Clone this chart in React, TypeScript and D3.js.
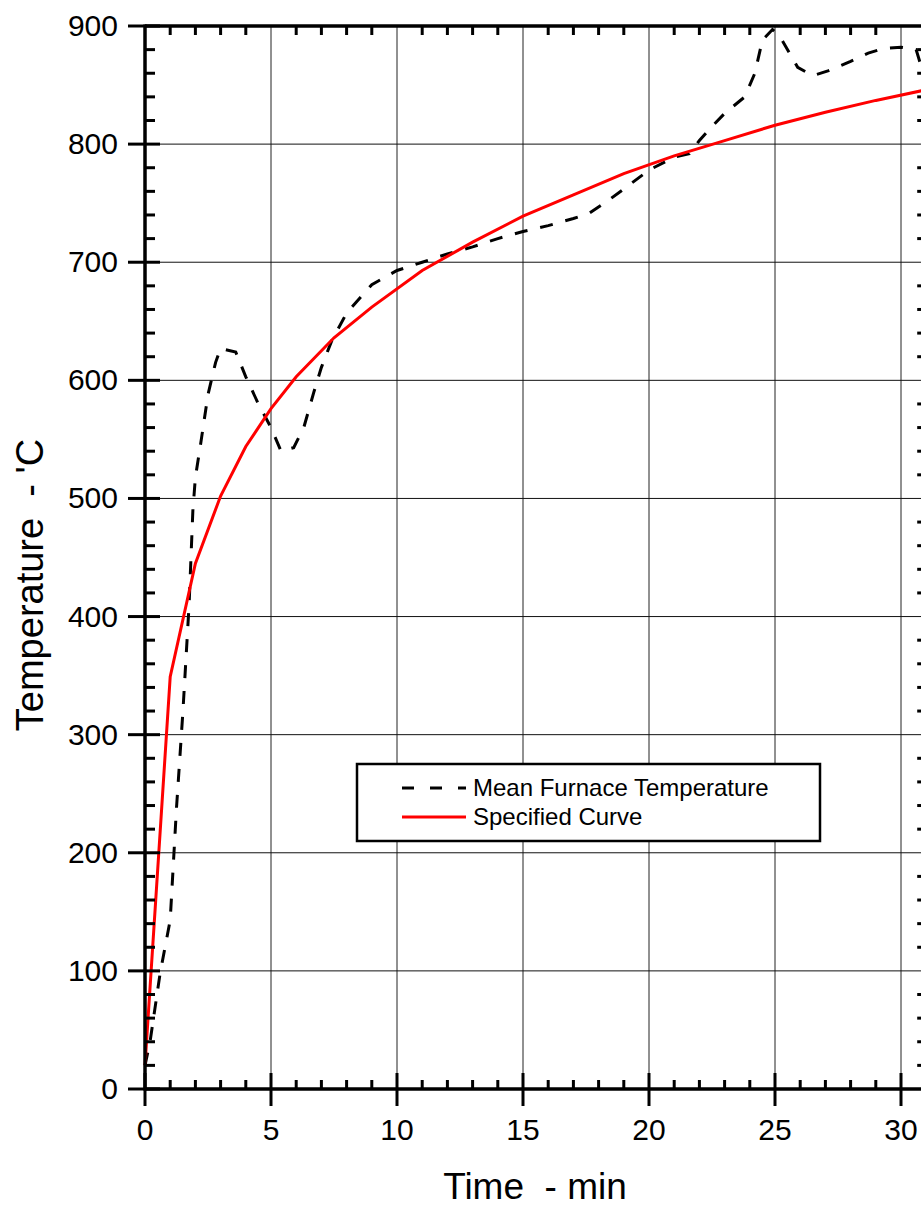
import React, { useRef, useEffect } from 'react';
import * as d3 from 'd3';

// Mean furnace temperature (dashed)
const meanTime = [0, 0.2, 0.6, 1.0, 1.25, 1.5, 1.75, 1.9, 2.0, 2.2, 2.5, 2.8, 3.0, 3.6, 4.0, 4.5, 5.0, 5.4, 5.9, 6.3, 6.7, 7.0, 7.4, 8.0, 9.0, 10.0, 11.0, 12.0, 13.0, 14.0, 15.0, 16.0, 17.0, 17.6, 18.3, 19.0, 20.0, 21.0, 21.6, 22.0, 22.5, 23.0, 23.8, 24.2, 24.5, 24.9, 25.2, 25.9, 26.5, 27.1, 28.0, 28.7, 29.3, 30.0, 30.6, 31.0];
const meanTemp = [20, 40, 98, 143, 238, 318, 410, 490, 518, 545, 588, 615, 627, 624, 603, 580, 560, 540, 543, 560, 590, 611, 633, 657, 681, 693, 700, 707, 713, 720, 726, 731, 737, 741, 751, 762, 778, 789, 792, 803, 815, 826, 840, 860, 888, 897, 891, 865, 858, 862, 870, 877, 881, 882, 880, 852];

// Specified curve (red)
const specTime = [0, 1, 2, 3, 4, 5, 6, 7.5, 9, 11, 13, 15, 17, 19, 21, 23, 25, 27, 29, 31];
const specTemp = [20, 349, 445, 502, 544, 576, 603, 636, 662, 693, 717, 739, 757, 775, 790, 803, 816, 827, 837, 846];

const xTickLabels = [0, 5, 10, 15, 20, 25, 30];
const yTickLabels = [0, 100, 200, 300, 400, 500, 600, 700, 800, 900];
const legendLabels = ['Mean Furnace Temperature', 'Specified Curve'];

const FONT = '"Liberation Sans", Arial, sans-serif';

const FurnaceChart = () => {
  const svgRef = useRef<SVGSVGElement>(null);

  useEffect(() => {
    const svg = d3.select(svgRef.current);
    svg.selectAll('*').remove();

    const width = 921;
    const height = 1207;
    const left = 145;
    const top = 26;
    const bottom = 1089;

    svg.attr('width', width).attr('height', height);

    const x = d3.scaleLinear().domain([0, 31]).range([left, left + 31 * 25.2]);
    const y = d3.scaleLinear().domain([0, 900]).range([bottom, top]);
    const right = x(31);

    // Grid
    svg
      .append('g')
      .selectAll('line')
      .data(xTickLabels.filter((d) => d > 0))
      .enter()
      .append('line')
      .attr('x1', (d) => x(d))
      .attr('x2', (d) => x(d))
      .attr('y1', top)
      .attr('y2', bottom)
      .attr('stroke', '#222')
      .attr('stroke-width', 1);

    svg
      .append('g')
      .selectAll('line')
      .data(yTickLabels.filter((d) => d > 0 && d < 900))
      .enter()
      .append('line')
      .attr('x1', left)
      .attr('x2', right)
      .attr('y1', (d) => y(d))
      .attr('y2', (d) => y(d))
      .attr('stroke', '#111')
      .attr('stroke-width', 1);

    // Data lines
    const line = d3
      .line<number>()
      .x((_, i) => x(meanTime[i]))
      .y((d) => y(d));

    svg
      .append('path')
      .attr('d', line(meanTemp))
      .attr('fill', 'none')
      .attr('stroke', '#000')
      .attr('stroke-width', 3)
      .attr('stroke-dasharray', '13,13');

    const specLine = d3
      .line<number>()
      .x((_, i) => x(specTime[i]))
      .y((d) => y(d));

    svg
      .append('path')
      .attr('d', specLine(specTemp))
      .attr('fill', 'none')
      .attr('stroke', '#ff0000')
      .attr('stroke-width', 3);

    // Frame
    const frame = svg.append('g').attr('stroke', '#000').attr('stroke-width', 3.5);
    frame.append('line').attr('x1', left).attr('x2', left).attr('y1', top - 1.5).attr('y2', bottom + 1.5);
    frame.append('line').attr('x1', left).attr('x2', right).attr('y1', top).attr('y2', top);
    frame.append('line').attr('x1', left).attr('x2', right).attr('y1', bottom).attr('y2', bottom);
    frame.append('line').attr('x1', right).attr('x2', right).attr('y1', top).attr('y2', bottom);

    // Ticks
    const ticks = svg.append('g').attr('stroke', '#000').attr('stroke-width', 3);
    const xMinor = d3.range(1, 31).filter((d) => d % 5 !== 0);
    const yMinor = d3.range(20, 900, 20).filter((d) => d % 100 !== 0);

    xMinor.forEach((d) => {
      ticks.append('line').attr('x1', x(d)).attr('x2', x(d)).attr('y1', bottom).attr('y2', bottom - 9);
      ticks.append('line').attr('x1', x(d)).attr('x2', x(d)).attr('y1', top).attr('y2', top + 9);
    });
    xTickLabels.forEach((d) => {
      ticks.append('line').attr('x1', x(d)).attr('x2', x(d)).attr('y1', bottom - 16).attr('y2', bottom + 17);
    });
    yMinor.forEach((d) => {
      ticks.append('line').attr('x1', left).attr('x2', left + 10).attr('y1', y(d)).attr('y2', y(d));
      ticks.append('line').attr('x1', right).attr('x2', right - 9).attr('y1', y(d)).attr('y2', y(d));
    });
    yTickLabels.forEach((d) => {
      ticks.append('line').attr('x1', left - 17).attr('x2', left + 15).attr('y1', y(d)).attr('y2', y(d));
    });

    // Tick labels
    svg
      .append('g')
      .selectAll('text')
      .data(yTickLabels)
      .enter()
      .append('text')
      .attr('x', 118)
      .attr('y', (d) => y(d) + 10)
      .attr('text-anchor', 'end')
      .style('font-family', FONT)
      .style('font-size', '30px')
      .text((d) => d);

    svg
      .append('g')
      .selectAll('text')
      .data(xTickLabels)
      .enter()
      .append('text')
      .attr('x', (d) => x(d))
      .attr('y', 1140)
      .attr('text-anchor', 'middle')
      .style('font-family', FONT)
      .style('font-size', '30px')
      .text((d) => d);

    // Axis titles
    svg
      .append('text')
      .attr('x', 535)
      .attr('y', 1199)
      .attr('text-anchor', 'middle')
      .style('font-family', FONT)
      .style('font-size', '37px')
      .style('white-space', 'pre')
      .text('Time  - min');

    svg
      .append('text')
      .attr('transform', 'translate(43, 585) rotate(-90)')
      .attr('text-anchor', 'middle')
      .style('font-family', FONT)
      .style('font-size', '38px')
      .style('white-space', 'pre')
      .text("Temperature  - 'C");

    // Legend
    const legend = svg.append('g');
    legend
      .append('rect')
      .attr('x', 357)
      .attr('y', 764)
      .attr('width', 463)
      .attr('height', 77)
      .attr('fill', '#fff')
      .attr('stroke', '#000')
      .attr('stroke-width', 2.5);

    const rows = legend
      .selectAll('.row')
      .data(legendLabels)
      .enter()
      .append('g')
      .attr('transform', (_, i) => `translate(0, ${788 + i * 29})`);

    rows
      .append('line')
      .attr('x1', 402)
      .attr('x2', 466)
      .attr('y1', 0)
      .attr('y2', 0)
      .attr('stroke', (_, i) => (i === 0 ? '#000' : '#ff0000'))
      .attr('stroke-width', 3)
      .attr('stroke-dasharray', (_, i) => (i === 0 ? '12,16' : null));

    rows
      .append('text')
      .attr('x', 473)
      .attr('y', 8)
      .style('font-family', FONT)
      .style('font-size', '24px')
      .text((d) => d);
  }, []);

  return <svg ref={svgRef} style={{ position: 'absolute', left: 0, top: 0 }} />;
};

export default function App() {
  return <FurnaceChart />;
}
